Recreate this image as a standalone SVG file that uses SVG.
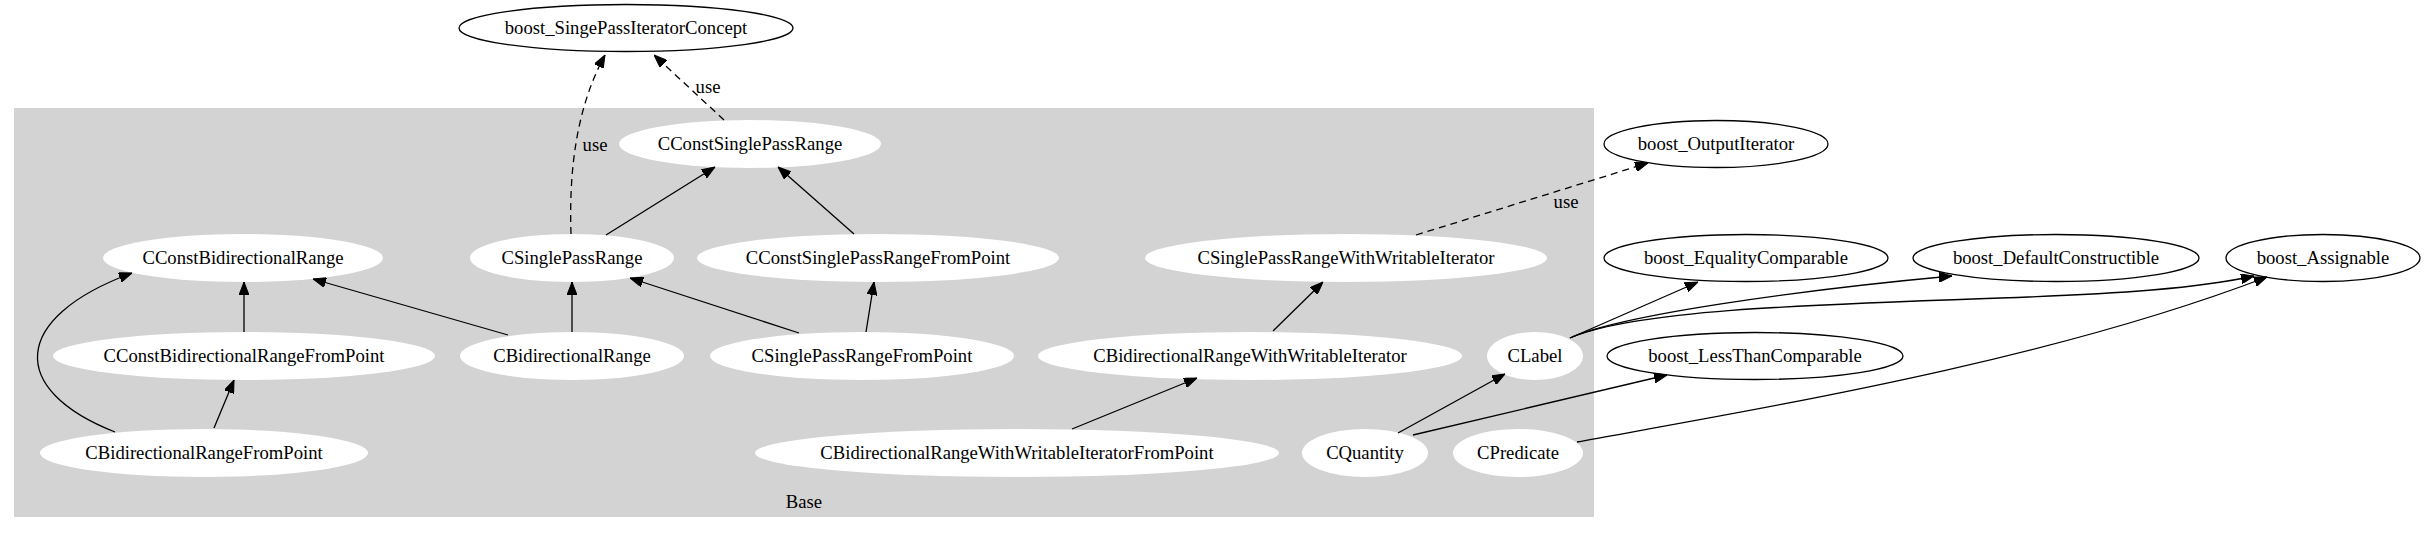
<svg xmlns="http://www.w3.org/2000/svg" width="2425" height="533" viewBox="0 0 2425 533">
<style>
text{font-family:"Liberation Serif","Times New Roman",serif;font-size:18.67px;text-anchor:middle;fill:#000}
.in{fill:#fff;stroke:none}
.out{fill:#fff;stroke:#000;stroke-width:1.3}
.e{fill:none;stroke:#000;stroke-width:1.3;marker-end:url(#ah)}
.d{stroke-dasharray:7,5}
</style>
<defs>
<marker id="ah" viewBox="0 0 13 10" refX="13" refY="5" markerWidth="13" markerHeight="10" markerUnits="userSpaceOnUse" orient="auto">
<path d="M0,0 L13,5 L0,10 z" fill="#000" stroke="#000" stroke-width="1"/>
</marker>
</defs>
<rect x="0" y="0" width="2425" height="533" fill="#fff"/>
<g id="cluster_Base">
<rect x="14" y="108" width="1580" height="409" fill="#d3d3d3"/>
<text x="804" y="508">Base</text>
</g>
<g id="n_boost_SingePassIteratorConcept"><ellipse class="out" cx="626" cy="28" rx="167" ry="23.5"/><text x="626" y="34">boost_SingePassIteratorConcept</text></g>
<g id="n_CConstSinglePassRange"><ellipse class="in" cx="750" cy="144" rx="131" ry="24"/><text x="750" y="150">CConstSinglePassRange</text></g>
<g id="n_boost_OutputIterator"><ellipse class="out" cx="1716" cy="144" rx="112" ry="23.5"/><text x="1716" y="150">boost_OutputIterator</text></g>
<g id="n_CConstBidirectionalRange"><ellipse class="in" cx="243" cy="258" rx="140" ry="24"/><text x="243" y="264">CConstBidirectionalRange</text></g>
<g id="n_CSinglePassRange"><ellipse class="in" cx="572" cy="258" rx="102" ry="24"/><text x="572" y="264">CSinglePassRange</text></g>
<g id="n_CConstSinglePassRangeFromPoint"><ellipse class="in" cx="878" cy="258" rx="181" ry="24"/><text x="878" y="264">CConstSinglePassRangeFromPoint</text></g>
<g id="n_CSinglePassRangeWithWritableIterator"><ellipse class="in" cx="1346" cy="258" rx="201" ry="24"/><text x="1346" y="264">CSinglePassRangeWithWritableIterator</text></g>
<g id="n_boost_EqualityComparable"><ellipse class="out" cx="1746" cy="258" rx="142" ry="23.5"/><text x="1746" y="264">boost_EqualityComparable</text></g>
<g id="n_boost_DefaultConstructible"><ellipse class="out" cx="2056" cy="258" rx="143" ry="23.5"/><text x="2056" y="264">boost_DefaultConstructible</text></g>
<g id="n_boost_Assignable"><ellipse class="out" cx="2323" cy="258" rx="97" ry="23.5"/><text x="2323" y="264">boost_Assignable</text></g>
<g id="n_CConstBidirectionalRangeFromPoint"><ellipse class="in" cx="244" cy="356" rx="191" ry="24"/><text x="244" y="362">CConstBidirectionalRangeFromPoint</text></g>
<g id="n_CBidirectionalRange"><ellipse class="in" cx="572" cy="356" rx="112" ry="24"/><text x="572" y="362">CBidirectionalRange</text></g>
<g id="n_CSinglePassRangeFromPoint"><ellipse class="in" cx="862" cy="356" rx="152" ry="24"/><text x="862" y="362">CSinglePassRangeFromPoint</text></g>
<g id="n_CBidirectionalRangeWithWritableIterator"><ellipse class="in" cx="1250" cy="356" rx="212" ry="24"/><text x="1250" y="362">CBidirectionalRangeWithWritableIterator</text></g>
<g id="n_CLabel"><ellipse class="in" cx="1535" cy="356" rx="48" ry="24"/><text x="1535" y="362">CLabel</text></g>
<g id="n_boost_LessThanComparable"><ellipse class="out" cx="1755" cy="356" rx="148" ry="23.5"/><text x="1755" y="362">boost_LessThanComparable</text></g>
<g id="n_CBidirectionalRangeFromPoint"><ellipse class="in" cx="204" cy="453" rx="164" ry="24"/><text x="204" y="459">CBidirectionalRangeFromPoint</text></g>
<g id="n_CBidirectionalRangeWithWritableIteratorFromPoint"><ellipse class="in" cx="1017" cy="453" rx="262" ry="24"/><text x="1017" y="459">CBidirectionalRangeWithWritableIteratorFromPoint</text></g>
<g id="n_CQuantity"><ellipse class="in" cx="1365" cy="453" rx="63" ry="24"/><text x="1365" y="459">CQuantity</text></g>
<g id="n_CPredicate"><ellipse class="in" cx="1518" cy="453" rx="65" ry="24"/><text x="1518" y="459">CPredicate</text></g>
<g id="edges">
<path class="e d" d="M571,234 C569,175 575,110 605,55"/>
<text x="595" y="151">use</text>
<path class="e d" d="M724,120 L654,55"/>
<text x="708" y="93">use</text>
<path class="e" d="M606,235 L715,167"/>
<path class="e" d="M854,234 L778,167"/>
<path class="e d" d="M1416,235 L1648,163"/>
<text x="1566" y="208">use</text>
<path class="e" d="M244,332 L244,282"/>
<path class="e" d="M508,335 L313,279"/>
<path class="e" d="M572,332 L572,282"/>
<path class="e" d="M799,333 L630,278"/>
<path class="e" d="M866,332 L874,282"/>
<path class="e" d="M1273,331 L1323,282"/>
<path class="e" d="M214,428 L234,380"/>
<path class="e" d="M115,432 C8,390 10,318 132,273"/>
<path class="e" d="M1072,429 L1197,378"/>
<path class="e" d="M1398,433 L1505,374"/>
<path class="e" d="M1413,435 L1667,375"/>
<path class="e" d="M1570,338 L1698,282"/>
<path class="e" d="M1570,338 C1620,315 1800,290 1952,276"/>
<path class="e" d="M1572,337 C1640,310 1800,305 2000,298 C2120,294 2200,288 2254,276"/>
<path class="e" d="M1577,442 C1780,405 2050,360 2267,277"/>
</g>
</svg>
